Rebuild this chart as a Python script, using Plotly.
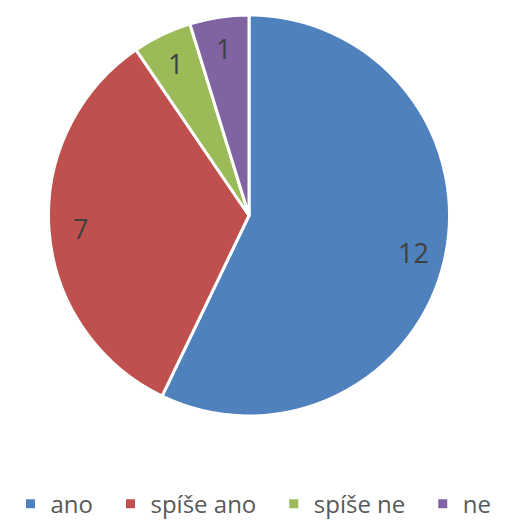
import math
import plotly.graph_objects as go

labels = ["ano", "spíše ano", "spíše ne", "ne"]
values = [12, 7, 1, 1]
colors = ["#4F81BD", "#C0504D", "#9BBB59", "#8064A2"]

W, H = 507, 524
OFF = 8  # page body margin
x0, x1 = (48 - OFF) / W, (450 - OFF) / W
y0, y1 = 1 - (416 - OFF) / H, 1 - (15 - OFF) / H

# legend entries get a little trailing space, as in the reference legend
legend_labels = [l + "\u00a0\u00a0" if i < len(labels) - 1 else l for i, l in enumerate(labels)]

fig = go.Figure(go.Pie(
    labels=legend_labels, values=values, sort=False, direction="clockwise", rotation=0,
    marker=dict(colors=colors, line=dict(color="white", width=3)),
    textinfo="none",
    domain=dict(x=[x0, x1], y=[y0, y1]),
    hoverinfo="label+value",
))

# value labels placed along each slice's mid-angle
cx, cy = (x0 + x1) / 2, (y0 + y1) / 2
rx = (x1 - x0) / 2
ry = (y1 - y0) / 2
total = sum(values)
cum = 0
frac = 0.84
for v in values:
    mid = (cum + v / 2) / total * 2 * math.pi
    cum += v
    fig.add_annotation(
        x=cx + frac * rx * math.sin(mid), y=cy + frac * ry * math.cos(mid),
        xref="paper", yref="paper", text=str(v), showarrow=False,
        xanchor="center", yanchor="middle",
        font=dict(family="Open Sans", size=27, color="#404040"),
    )

fig.update_layout(
    width=W, height=H, margin=dict(l=0, r=0, t=0, b=0),
    paper_bgcolor="white", plot_bgcolor="white",
    legend=dict(orientation="h", x=0.5 - OFF / W, xanchor="center", y=0.01, yanchor="bottom",
                font=dict(family="Open Sans", size=24, color="#595959"), traceorder="normal"),
)
fig.write_html("out.html")
